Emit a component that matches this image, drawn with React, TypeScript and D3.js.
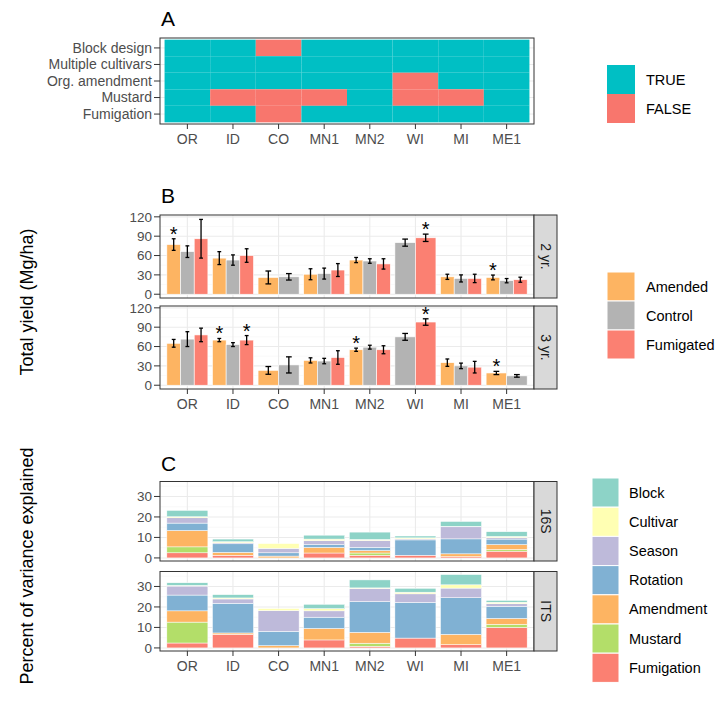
import React from 'react'
import * as d3 from 'd3'

// sites shared by all three panels
const sites = ['OR', 'ID', 'CO', 'MN1', 'MN2', 'WI', 'MI', 'ME1']

// A: study design
const designFactors = ['Block design', 'Multiple cultivars', 'Org. amendment', 'Mustard', 'Fumigation']
const blockDesign = [true, true, false, true, true, true, true, true]
const multipleCultivars = [true, true, true, true, true, true, true, true]
const orgAmendment = [true, true, true, true, true, false, true, true]
const mustardUsed = [true, false, false, false, true, false, false, true]
const fumigationUsed = [true, true, false, true, true, true, true, true]

// B: total yield (Mg/ha), null = treatment absent at site
const treatments = ['Amended', 'Control', 'Fumigated']
const years = ['2 yr.', '3 yr.']
const amended2 = [77, 56, 26, 31, 53, null, 27, 26]
const amendedSe2 = [9, 10, 10, 8.5, 4, null, 4, 3.7]
const control2 = [66, 53, 27, 32, 51.5, 80, 24.5, 21]
const controlSe2 = [9, 8, 5, 8.5, 3.5, 5.5, 5.5, 3.3]
const fumigated2 = [86, 60, null, 37.5, 47, 87.5, 24.5, 22.5]
const fumigatedSe2 = [30, 10.5, null, 10, 8, 5.7, 6.5, 3.9]
const amended3 = [65, 70, 23, 38.5, 55, null, 35, 19]
const amendedSe3 = [6, 2.5, 6, 4, 2.5, null, 5.7, 2.5]
const control3 = [71.5, 63, 31.5, 37.5, 59, 75, 30, 14.5]
const controlSe3 = [11.5, 3, 12.5, 4.2, 3, 5.3, 4.3, 2]
const fumigated3 = [78, 70, null, 43, 55, 98, 28, null]
const fumigatedSe3 = [10.5, 7, null, 10.5, 6.2, 5, 9, null]
const sigAmended2 = ['OR', 'ME1']
const sigFumigated2 = ['WI']
const sigAmended3 = ['ID', 'MN2', 'ME1']
const sigFumigated3 = ['ID', 'WI']

// C: percent of variance explained
const components = ['Block', 'Cultivar', 'Season', 'Rotation', 'Amendment', 'Mustard', 'Fumigation']
const markers = ['16S', 'ITS']
const block16S = [3.1, 1.3, 0, 1.9, 3.6, 0.9, 2.4, 2.3]
const cultivar16S = [0.5, 0.5, 2.3, 0.8, 0.5, 0.5, 0.2, 0.6]
const season16S = [2.6, 0.5, 2.2, 1.9, 3.3, 0.5, 5.9, 0.7]
const rotation16S = [3.6, 4.2, 1.6, 1.4, 1.6, 7.5, 7.3, 2.7]
const amendment16S = [8.0, 1.4, 0.9, 2.7, 1.2, 0, 1.4, 2.4]
const mustard16S = [2.9, 0, 0, 0, 1.1, 0, 0, 0.8]
const fumigation16S = [2.5, 1.3, 0, 2.4, 1.3, 1.3, 0.6, 3.3]
const blockITS = [1.3, 1.6, 0, 2.1, 3.9, 1.9, 5.0, 0.9]
const cultivarITS = [0.3, 0.5, 1.0, 1.1, 0.3, 0.8, 1.6, 0.7]
const seasonITS = [4.4, 2.1, 10.1, 3.1, 6.4, 4.2, 4.7, 1.3]
const rotationITS = [7.7, 14.5, 7.0, 5.5, 15.0, 17.4, 17.9, 5.9]
const amendmentITS = [5.5, 0.7, 1.1, 5.6, 5.3, 0, 5.0, 2.9]
const mustardITS = [10.2, 0, 0, 0, 1.5, 0, 0, 1.5]
const fumigationITS = [2.4, 6.6, 0, 3.9, 0.8, 4.8, 1.6, 10]

const FONT = '"Liberation Sans", Arial, Helvetica, sans-serif'
const TICK_COL = '#4D4D4D'
const GRID = '#EBEBEB'
const GRID_MINOR = '#F5F5F5'
const BORDER = '#333333'

const designColors = { TRUE: '#00BFC4', FALSE: '#F8766D' }
const treatmentColors = ['#FDB462', '#B3B3B3', '#FB8072']
const componentColors = ['#8DD3C7', '#FFFFB3', '#BEBADA', '#80B1D3', '#FDB462', '#B3DE69', '#FB8072']

const left = 160
const right = 534
const x = d3.scalePoint<string>().domain(sites).range([left, right]).padding(0.6)
const step = x.step()

function YAxis({ y, ticks }: { y: d3.ScaleLinear<number, number>; ticks: number[] }) {
  return (
    <g>
      {ticks.map((t) => (
        <g key={t}>
          <line x1={left - 6} x2={left} y1={y(t)} y2={y(t)} stroke={BORDER} strokeWidth={1} />
          <text x={left - 8} y={y(t)} dy="0.35em" textAnchor="end" fontSize={13.5} fill={TICK_COL}>{t}</text>
        </g>
      ))}
    </g>
  )
}

function XAxis({ bottom }: { bottom: number }) {
  return (
    <g>
      {sites.map((s) => (
        <g key={s}>
          <line x1={x(s)} x2={x(s)} y1={bottom} y2={bottom + 5} stroke={BORDER} strokeWidth={1} />
          <text x={x(s)} y={bottom + 20} textAnchor="middle" fontSize={14} fill={TICK_COL}>{s}</text>
        </g>
      ))}
    </g>
  )
}

function Grid({ y, major, minor, top, bottom }: { y: d3.ScaleLinear<number, number>; major: number[]; minor: number[]; top: number; bottom: number }) {
  return (
    <g>
      {minor.map((t) => (
        <line key={'m' + t} x1={left} x2={right} y1={y(t)} y2={y(t)} stroke={GRID_MINOR} strokeWidth={0.6} />
      ))}
      {major.map((t) => (
        <line key={'M' + t} x1={left} x2={right} y1={y(t)} y2={y(t)} stroke={GRID} strokeWidth={1.1} />
      ))}
      {sites.map((s) => (
        <line key={s} x1={x(s)} x2={x(s)} y1={top} y2={bottom} stroke={GRID} strokeWidth={1.1} />
      ))}
    </g>
  )
}

function Strip({ label, top, bottom }: { label: string; top: number; bottom: number }) {
  const cx = right + 11.5
  const cy = (top + bottom) / 2
  return (
    <g>
      <rect x={right} y={top} width={23} height={bottom - top} fill="#D9D9D9" stroke={BORDER} strokeWidth={1} />
      <text transform={`translate(${cx},${cy}) rotate(90)`} dy="0.35em" textAnchor="middle" fontSize={14} fill="#1A1A1A">{label}</text>
    </g>
  )
}

function Legend({ labels, colors, x0, y0, w, h, textX, outline }: { labels: string[]; colors: string[]; x0: number; y0: number; w: number; h: number; textX: number; outline: boolean }) {
  return (
    <g>
      {labels.map((l, i) => (
        <g key={l}>
          <rect x={x0} y={y0 + i * h} width={w} height={h} fill={colors[i]} stroke={outline ? 'white' : 'none'} strokeWidth={1} />
          <text x={textX} y={y0 + i * h + h / 2} dy="0.35em" fontSize={14.5} fill="#000">{l}</text>
        </g>
      ))}
    </g>
  )
}

function DesignPanel() {
  const top = 38
  const bottom = 124
  const y = d3.scalePoint<string>().domain(designFactors).range([top, bottom]).padding(0.6)
  const rows = [blockDesign, multipleCultivars, orgAmendment, mustardUsed, fumigationUsed]
  return (
    <g>
      {designFactors.map((f) => (
        <line key={f} x1={left} x2={right} y1={y(f)} y2={y(f)} stroke={GRID} />
      ))}
      {rows.map((row, i) =>
        row.map((v, j) => (
          <rect
            key={i + '-' + j}
            x={(x(sites[j]) as number) - step / 2}
            y={(y(designFactors[i]) as number) - y.step() / 2}
            width={step}
            height={y.step()}
            fill={v ? designColors.TRUE : designColors.FALSE}
          />
        ))
      )}
      <rect x={left} y={top} width={right - left} height={bottom - top} fill="none" stroke={BORDER} strokeWidth={1} />
      {designFactors.map((f) => (
        <g key={f}>
          <line x1={left - 6} x2={left} y1={y(f)} y2={y(f)} stroke={BORDER} />
          <text x={left - 8} y={y(f)} dy="0.35em" textAnchor="end" fontSize={14} fill={TICK_COL}>{f}</text>
        </g>
      ))}
      <XAxis bottom={bottom} />
    </g>
  )
}

function YieldFacet({ label, top, bottom, means, ses, sig }: { label: string; top: number; bottom: number; means: (number | null)[][]; ses: (number | null)[][]; sig: string[][] }) {
  const y = d3.scaleLinear().domain([-5.85, 122.85]).range([bottom, top])
  return (
    <g>
      <rect x={left} y={top} width={right - left} height={bottom - top} fill="white" />
      <Grid y={y} major={[0, 30, 60, 90, 120]} minor={[15, 45, 75, 105]} top={top} bottom={bottom} />
      {sites.map((s, j) => {
        const present = treatments.map((_, k) => k).filter((k) => means[k][j] != null)
        const groupW = step * 0.9
        const bw = groupW / present.length
        const x0 = (x(s) as number) - groupW / 2
        return (
          <g key={s}>
            {present.map((k, i) => {
              const m = means[k][j] as number
              const se = ses[k][j] as number
              const bx = x0 + i * bw
              const cx = bx + bw / 2
              const cap = bw * 0.14
              return (
                <g key={k}>
                  <rect x={bx} y={y(m)} width={bw} height={y(0) - y(m)} fill={treatmentColors[k]} stroke="white" strokeWidth={0.6} />
                  <line x1={cx} x2={cx} y1={y(m - se)} y2={y(m + se)} stroke="black" strokeWidth={1.3} />
                  <line x1={cx - cap} x2={cx + cap} y1={y(m - se)} y2={y(m - se)} stroke="black" strokeWidth={1.3} />
                  <line x1={cx - cap} x2={cx + cap} y1={y(m + se)} y2={y(m + se)} stroke="black" strokeWidth={1.3} />
                  {sig[k].includes(s) && (
                    <text x={cx} y={y(m + se) + 2} textAnchor="middle" fontSize={20} fill="black">*</text>
                  )}
                </g>
              )
            })}
          </g>
        )
      })}
      <rect x={left} y={top} width={right - left} height={bottom - top} fill="none" stroke={BORDER} strokeWidth={1} />
      <Strip label={label} top={top} bottom={bottom} />
      <YAxis y={y} ticks={[0, 30, 60, 90, 120]} />
    </g>
  )
}

function VarianceFacet({ label, top, bottom, values }: { label: string; top: number; bottom: number; values: number[][] }) {
  const y = d3.scaleLinear().domain([-1.5, 37.3]).range([bottom, top])
  // stack from Fumigation (bottom) up to Block (top)
  const rows = sites.map((s, j) => {
    const r: Record<string, number | string> = { site: s }
    components.forEach((c, k) => (r[c] = values[k][j]))
    return r
  })
  const stack = d3.stack<Record<string, number | string>>().keys([...components].reverse())(rows)
  const bw = step * 0.9
  return (
    <g>
      <rect x={left} y={top} width={right - left} height={bottom - top} fill="white" />
      <Grid y={y} major={[0, 10, 20, 30]} minor={[5, 15, 25, 35]} top={top} bottom={bottom} />
      {stack.map((layer) => {
        const k = components.indexOf(layer.key)
        return (
          <g key={layer.key}>
            {layer.map((d, j) =>
              d[1] - d[0] > 0 ? (
                <rect
                  key={j}
                  x={(x(sites[j]) as number) - bw / 2}
                  y={y(d[1])}
                  width={bw}
                  height={y(d[0]) - y(d[1])}
                  fill={componentColors[k]}
                  stroke="white"
                  strokeWidth={0.5}
                />
              ) : null
            )}
          </g>
        )
      })}
      <rect x={left} y={top} width={right - left} height={bottom - top} fill="none" stroke={BORDER} strokeWidth={1} />
      <Strip label={label} top={top} bottom={bottom} />
      <YAxis y={y} ticks={[0, 10, 20, 30]} />
    </g>
  )
}

export default function App() {
  return (
    <svg
      width={723}
      height={703}
      style={{ position: 'absolute', left: 0, top: 0, background: 'white' }}
      fontFamily={FONT}
    >
      <rect width={723} height={703} fill="white" />
      {/* A */}
      <text x={161} y={26} fontSize={21} fill="#000">A</text>
      <DesignPanel />
      <Legend labels={['TRUE', 'FALSE']} colors={[designColors.TRUE, designColors.FALSE]} x0={607} y0={65} w={28} h={29} textX={646} outline={false} />

      {/* B */}
      <text x={161} y={203} fontSize={21} fill="#000">B</text>
      <YieldFacet
        label={years[0]}
        top={215}
        bottom={298}
        means={[amended2, control2, fumigated2]}
        ses={[amendedSe2, controlSe2, fumigatedSe2]}
        sig={[sigAmended2, [], sigFumigated2]}
      />
      <YieldFacet
        label={years[1]}
        top={306}
        bottom={389}
        means={[amended3, control3, fumigated3]}
        ses={[amendedSe3, controlSe3, fumigatedSe3]}
        sig={[sigAmended3, [], sigFumigated3]}
      />
      <XAxis bottom={389} />
      <text transform="translate(33,302) rotate(-90)" textAnchor="middle" fontSize={18} fill="#000">Total yield (Mg/ha)</text>
      <Legend labels={treatments} colors={treatmentColors} x0={607} y0={272} w={28} h={29} textX={646} outline={true} />

      {/* C */}
      <text x={161} y={471} fontSize={21} fill="#000">C</text>
      <VarianceFacet
        label={markers[0]}
        top={481.5}
        bottom={561}
        values={[block16S, cultivar16S, season16S, rotation16S, amendment16S, mustard16S, fumigation16S]}
      />
      <VarianceFacet
        label={markers[1]}
        top={571.5}
        bottom={651}
        values={[blockITS, cultivarITS, seasonITS, rotationITS, amendmentITS, mustardITS, fumigationITS]}
      />
      <XAxis bottom={651} />
      <text transform="translate(33,566) rotate(-90)" textAnchor="middle" fontSize={18} fill="#000">Percent of variance explained</text>
      <Legend labels={components} colors={componentColors} x0={592} y0={478} w={27} h={29.2} textX={629} outline={true} />
    </svg>
  )
}
